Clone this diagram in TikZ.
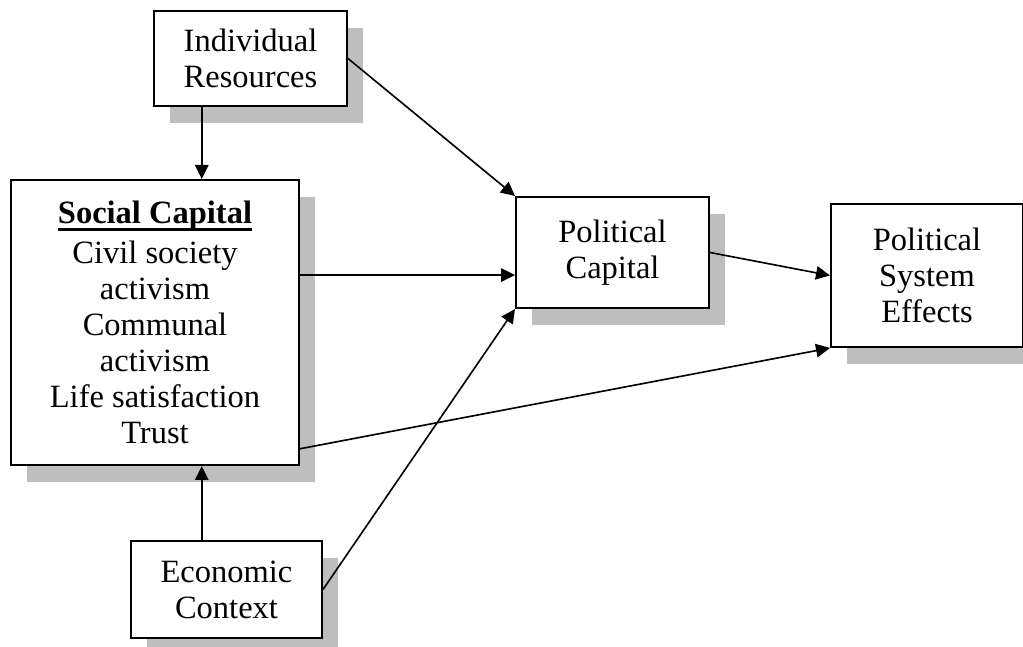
\documentclass[tikz,border=0pt]{standalone}
\usepackage{fontspec}
\setmainfont{Liberation Serif}
\usepackage{xcolor}
\usetikzlibrary{arrows.meta,positioning,calc,shadows}
\definecolor{shade}{HTML}{BEBEBE}
\newcommand{\thickul}[1]{\setbox0\hbox{#1}\rlap{\rule[-3pt]{\wd0}{1.1pt}}\box0}

\begin{document}
\begin{tikzpicture}[every node/.style={font=\fontsize{13}{14.4}\selectfont},box/.style={draw=black,line width=0.8pt,fill=white,align=center,inner sep=2pt,drop shadow={shadow xshift=6.4pt,shadow yshift=-6.8pt,fill=shade,opacity=1}},arr/.style={-{Triangle[length=5.6pt,width=5.4pt]},line width=0.65pt}]
\useasboundingbox (-62pt,-129.8pt) rectangle (347.2pt,129pt);
\node[box,minimum width=115.2pt,minimum height=114pt] (soc) at (0,0) {\thickul{\textbf{Social Capital}}\\[1.5pt]Civil society\\activism\\Communal\\activism\\Life satisfaction\\Trust};
\node[box,minimum width=77.2pt,minimum height=38pt,above=28.8pt of soc,xshift=38.2pt] (ind) {Individual\\Resources};
\node[box,minimum width=76.4pt,minimum height=38.8pt,below=29.6pt of soc,xshift=28.6pt] (eco) {Economic\\Context};
\node[box,minimum width=77.2pt,minimum height=44.4pt,right=86pt of soc,yshift=28pt] (pol) {Political\\Capital};
\node[box,minimum width=76.8pt,minimum height=57.2pt,right=48pt of pol,yshift=-9.2pt] (sys) {Political\\System\\Effects};
% attachment points
\coordinate (ind1) at ($(ind.south west)!0.25!(ind.south east)$);
\coordinate (pol1) at ($(pol.north west)!0.7!(pol.south west)$);
\coordinate (soc1) at ($(soc.north east)!0.94!(soc.south east)$);
\draw[arr] (ind1) -- (ind1 |- soc.north);\draw[arr] (eco.north -| ind1) -- (soc.south -| ind1);
\draw[arr] (ind.east) -- (pol.north west);\draw[arr] (soc.east |- pol1) -- (pol1);\draw[arr] (eco.east) -- (pol.south west);
\draw[arr] (pol.east) -- (sys.west);\draw[arr] (soc1) -- (sys.south west);
\end{tikzpicture}
\end{document}
